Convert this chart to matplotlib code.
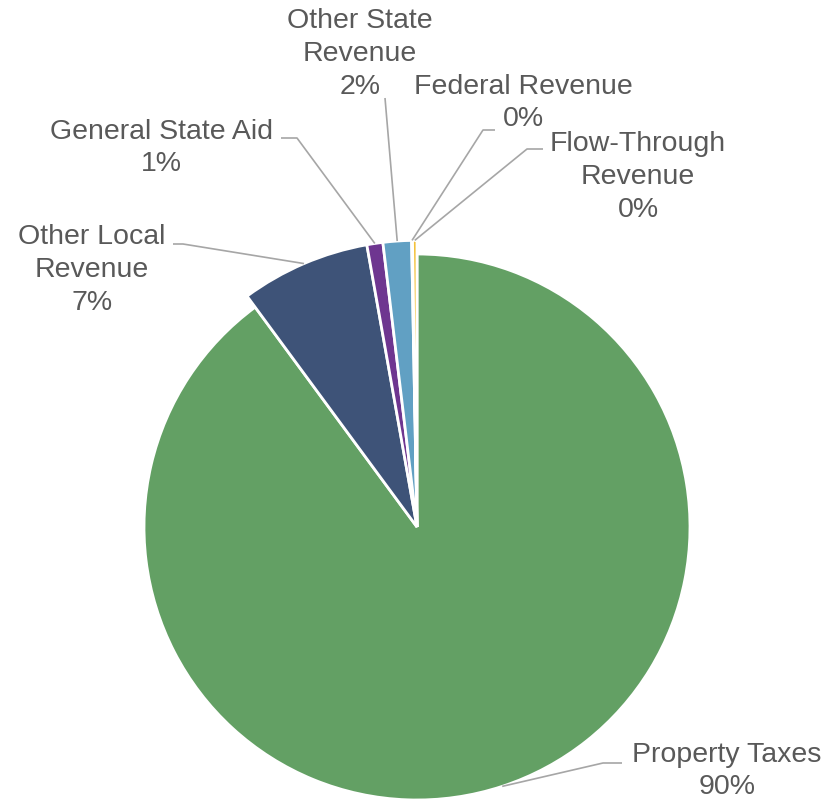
import matplotlib.pyplot as plt
import numpy as np

# Revenue sources, in drawing order (clockwise from 12 o'clock)
categories = ["Property Taxes", "Other Local\nRevenue", "General State Aid",
              "Other State\nRevenue", "Federal Revenue", "Flow-Through\nRevenue"]
shares = [89.9, 7.3, 0.9, 1.6, 0.05, 0.25]
colors = ["#63A064", "#3E5378", "#6E3690", "#61A0C3", "#C0504D", "#F3C13A"]

# Label block centres and leader-line start points, in pixels
label_pos = [(727, 771), (92, 270), (161, 148), (360, 54), (523, 103), (638, 177)]
leader_start = [
    [(622, 763), (603, 763)],
    [(173, 244), (183, 244)],
    [(281, 138), (297, 138)],
    [(385, 98)],
    [(495, 130), (483, 130)],
    [(543, 149), (527, 149)],
]

W, H = 832, 802
CX, CY, R = 417, 527, 273


def px(x, y):
    return ((x - CX) / R, (CY - y) / R)


fig = plt.figure(figsize=(W / 100, H / 100), dpi=100)
ax = fig.add_axes([0, 0, 1, 1])

wedges, _ = ax.pie(shares, colors=colors, startangle=90, counterclock=False,
                   radius=1.0,
                   wedgeprops=dict(edgecolor="white", linewidth=2))
# the smaller slices stand slightly proud of the main one
for w in wedges[1:]:
    w.set_radius(1.05)

ax.set_xlim(-CX / R, (W - CX) / R)
ax.set_ylim((CY - H) / R, CY / R)
ax.set_aspect("equal")
ax.axis("off")

text_color = "#595959"
line_color = "#A6A6A6"

for i, (w, cat, v, pos, starts) in enumerate(zip(wedges, categories, shares,
                                                   label_pos, leader_start)):
    mid = np.deg2rad((w.theta1 + w.theta2) / 2)
    ax_pt = (w.r * np.cos(mid), w.r * np.sin(mid))
    pts = [px(*p) for p in starts] + [ax_pt]
    xs, ys = zip(*pts)
    ax.plot(xs, ys, color=line_color, lw=1.2, solid_capstyle="butt", zorder=3)
    tx, ty = px(*pos)
    ax.text(tx, ty, f"{cat}\n{round(v):.0f}%", ha="center", va="center",
            multialignment="center", fontsize=20.5, color=text_color,
            family="Liberation Sans", linespacing=1.25 if i == 0 else 1.33)

fig.savefig("out.png", dpi=100, facecolor="white")
